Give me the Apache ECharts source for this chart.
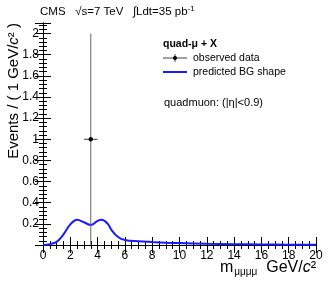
<!DOCTYPE html>
<html><head><meta charset="utf-8">
<script src="https://cdn.jsdelivr.net/npm/echarts@6/dist/echarts.min.js"></script>
<style>html,body{margin:0;padding:0;background:#fff}#c{width:332px;height:281px}</style>
</head><body><div id="c"></div>
<script>
// Predicted background shape (x in GeV/c^2, events per 1 GeV/c^2)
const bgX = [0, 0.5, 1, 1.5, 2, 2.5, 3, 3.5, 4, 4.3, 4.75, 5, 5.5, 6, 7, 8, 9, 10, 12, 14, 16, 18, 20];
const bgY = [0, 0.008, 0.03, 0.1, 0.195, 0.24, 0.215, 0.19, 0.228, 0.238, 0.2, 0.145, 0.075, 0.047, 0.035, 0.028, 0.022, 0.018, 0.012, 0.008, 0.005, 0.003, 0.002];
// Observed data
const obsX = [3.5];
const obsY = [1];
const obsXErr = [0.5];
const obsYErrLow = [1];
const obsYErrHigh = [1];
const xTicks = [0, 2, 4, 6, 8, 10, 12, 14, 16, 18, 20];
const yTicks = [0.2, 0.4, 0.6, 0.8, 1, 1.2, 1.4, 1.6, 1.8, 2];

const FONT = 'Liberation Sans';
const chart = echarts.init(document.getElementById('c'));
const grid = {left: 43, right: 16, top: 23, bottom: 36};
const axBase = {
  type: 'value', axisLine: {show: true, lineStyle: {color: '#000', width: 1}},
  splitLine: {show: false}
};
chart.setOption({
  animation: false,
  grid: grid,
  xAxis: [
    Object.assign({}, axBase, {position: 'bottom', min: 0, max: 20, interval: 2,
      axisTick: {inside: true, length: 8, lineStyle: {color: '#000'}},
      minorTick: {show: true, splitNumber: 4, length: 4, lineStyle: {color: '#000'}},
      axisLabel: {color: '#000', fontFamily: FONT, fontSize: 12, margin: 5,
        formatter: v => xTicks.includes(v) ? String(v) : ''}}),
    Object.assign({}, axBase, {position: 'top', min: 0, max: 20, interval: 2,
      axisTick: {inside: true, length: 8, lineStyle: {color: '#000'}},
      minorTick: {show: true, splitNumber: 4, length: 4, lineStyle: {color: '#000'}},
      axisLabel: {show: false}})
  ],
  yAxis: [
    Object.assign({}, axBase, {position: 'left', min: 0, max: 2.1, interval: 0.2,
      axisTick: {inside: true, length: 8, lineStyle: {color: '#000'}},
      minorTick: {show: true, splitNumber: 5, length: 4, lineStyle: {color: '#000'}},
      axisLabel: {color: '#000', fontFamily: FONT, fontSize: 12, margin: 4,
        formatter: v => {const r = Math.round(v * 10) / 10; return yTicks.includes(r) ? String(r) : '';}}}),
    Object.assign({}, axBase, {position: 'right', min: 0, max: 2.1, interval: 0.2,
      axisTick: {inside: true, length: 8, lineStyle: {color: '#000'}},
      minorTick: {show: true, splitNumber: 5, length: 4, lineStyle: {color: '#000'}},
      axisLabel: {show: false}})
  ],
  series: [
    {type: 'line', xAxisIndex: 0, yAxisIndex: 0, data: bgX.map((x, i) => [x, bgY[i]]),
      smooth: 0.4, showSymbol: false, lineStyle: {color: '#1a1aff', width: 2}, z: 3},
    {type: 'custom', xAxisIndex: 0, yAxisIndex: 0,
      data: obsX.map((x, i) => [x, obsY[i], obsXErr[i], obsYErrLow[i], obsYErrHigh[i]]),
      renderItem: (params, api) => {
        const x = api.value(0), y = api.value(1), ex = api.value(2), lo = api.value(3), hi = api.value(4);
        const c = api.coord([x, y]);
        const top = api.coord([x, y + hi]);
        const bot = api.coord([x, y - lo]);
        const l = api.coord([x - ex, y]);
        const r = api.coord([x + ex, y]);
        return {type: 'group', children: [
          {type: 'line', shape: {x1: top[0], y1: top[1], x2: bot[0], y2: bot[1]}, style: {stroke: '#666', lineWidth: 1}},
          {type: 'line', shape: {x1: l[0], y1: l[1], x2: r[0], y2: r[1]}, style: {stroke: '#444', lineWidth: 1}},
          {type: 'circle', shape: {cx: c[0], cy: c[1], r: 2.2}, style: {fill: '#000'}}
        ]};
      }, z: 4}
  ],
  graphic: [
    {type: 'text', left: 40, top: 5, style: {
      text: 'CMS   √s=7 TeV   ∫Ldt=35 pb{s|-1}', fontFamily: FONT, fontSize: 11.5, fill: '#000',
      rich: {s: {fontSize: 8, verticalAlign: 'top', padding: [0, 0, 6, 0], fontFamily: FONT}}}},
    {type: 'text', x: 163, y: 44, style: {text: 'quad-μ + X', fontFamily: FONT, fontSize: 10.5, fontWeight: 'bold', fill: '#000', verticalAlign: 'middle'}},
    {type: 'line', shape: {x1: 163, y1: 58, x2: 187, y2: 58}, style: {stroke: '#444', lineWidth: 1}},
    {type: 'line', shape: {x1: 175, y1: 54, x2: 175, y2: 62}, style: {stroke: '#444', lineWidth: 1}},
    {type: 'circle', shape: {cx: 175, cy: 58, r: 2}, style: {fill: '#000'}},
    {type: 'text', x: 193, y: 58, style: {text: 'observed data', fontFamily: FONT, fontSize: 10.5, fill: '#000', verticalAlign: 'middle'}},
    {type: 'line', shape: {x1: 163, y1: 72, x2: 187, y2: 72}, style: {stroke: '#1a1aff', lineWidth: 2}},
    {type: 'text', x: 193, y: 72, style: {text: 'predicted BG shape', fontFamily: FONT, fontSize: 10.5, fill: '#000', verticalAlign: 'middle'}},
    {type: 'text', x: 164, y: 103, style: {text: 'quadmuon: (|η|<0.9)', fontFamily: FONT, fontSize: 11, fill: '#000', verticalAlign: 'middle'}},
    {type: 'text', x: 14, y: 23, rotation: Math.PI / 2, style: {
      text: 'Events / ( 1 GeV/{i|c}² )', fontFamily: FONT, fontSize: 15, fill: '#000', align: 'right', verticalAlign: 'middle',
      rich: {i: {fontStyle: 'italic', fontSize: 15, fontFamily: FONT}}}},
    {type: 'text', x: 316, y: 268, style: {
      text: 'm{sub|μμμμ}  GeV/{i|c}²', fontFamily: FONT, fontSize: 16, fill: '#000', align: 'right', verticalAlign: 'middle',
      rich: {sub: {fontSize: 10, fontFamily: FONT, padding: [9, 0, 0, 1]}, i: {fontStyle: 'italic', fontSize: 16, fontFamily: FONT}}}}
  ]
});
</script></body></html>
